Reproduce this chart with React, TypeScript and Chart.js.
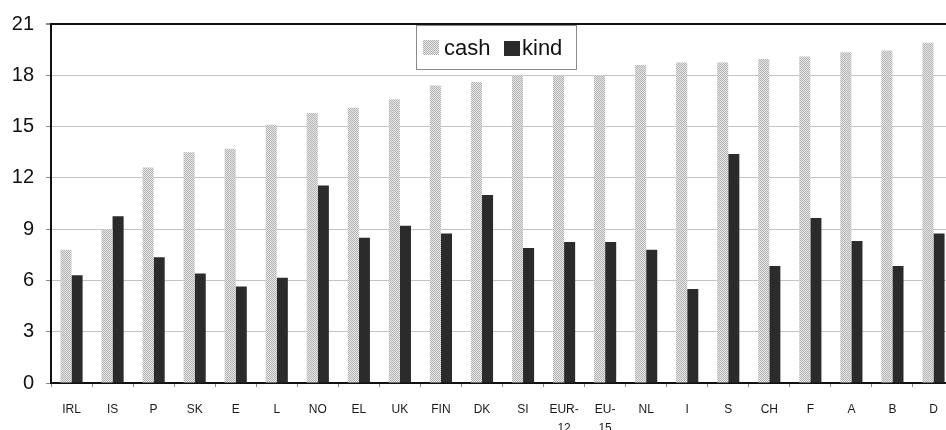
import React, { useEffect, useRef } from "react";
import { Chart, registerables } from "chart.js";

Chart.register(...registerables);

const categories: (string | string[])[] = [
  "IRL", "IS", "P", "SK", "E", "L", "NO", "EL", "UK", "FIN", "DK", "SI",
  ["EUR-", "12"], ["EU-", "15"], "NL", "I", "S", "CH", "F", "A", "B", "D",
];
const cashValues = [7.8, 9.0, 12.6, 13.5, 13.7, 15.1, 15.8, 16.1, 16.6, 17.4, 17.6, 18.0, 18.0, 18.0, 18.6, 18.75, 18.75, 18.95, 19.1, 19.35, 19.45, 19.9];
const kindValues = [6.3, 9.75, 7.35, 6.4, 5.65, 6.15, 11.55, 8.5, 9.2, 8.75, 11.0, 7.9, 8.25, 8.25, 7.8, 5.5, 13.4, 6.85, 9.65, 8.3, 6.85, 8.75];
const yTicks = [0, 3, 6, 9, 12, 15, 18, 21];
const seriesLabels = ["cash", "kind"];

function makeDotPattern(): CanvasPattern | string {
  const c = document.createElement("canvas");
  c.width = 2;
  c.height = 2;
  const g = c.getContext("2d");
  if (!g) return "#d0d0d0";
  g.fillStyle = "#e6e6e6";
  g.fillRect(0, 0, 2, 2);
  g.fillStyle = "#b4b4b4";
  g.fillRect(0, 0, 1, 1);
  g.fillRect(1, 1, 1, 1);
  const p = g.createPattern(c, "repeat");
  return p || "#d0d0d0";
}

const legendPlugin = {
  id: "boxLegend",
  afterDraw(chart: any) {
    const ctx = chart.ctx as CanvasRenderingContext2D;
    ctx.save();
    const x = 416, y = 25, w = 160, h = 44;
    ctx.fillStyle = "#ffffff";
    ctx.fillRect(x, y, w, h);
    ctx.strokeStyle = "#8a8a8a";
    ctx.lineWidth = 1;
    ctx.strokeRect(x + 0.5, y + 0.5, w, h);
    const ds = chart.data.datasets;
    ctx.font = "22px 'Liberation Sans', Arial, sans-serif";
    ctx.textBaseline = "alphabetic";
    ctx.fillStyle = ds[0].backgroundColor;
    ctx.fillRect(423, 40, 16, 15);
    ctx.fillStyle = "#111";
    ctx.fillText(ds[0].label, 444, 55);
    ctx.fillStyle = ds[1].backgroundColor;
    ctx.fillRect(504, 41, 16, 15);
    ctx.fillStyle = "#111";
    ctx.fillText(ds[1].label, 522, 55);
    ctx.restore();
  },
};

export default function App() {
  const ref = useRef<HTMLCanvasElement | null>(null);
  useEffect(() => {
    if (!ref.current) return;
    const pattern = makeDotPattern();
    const chart = new Chart(ref.current, {
      type: "bar",
      data: {
        labels: categories,
        datasets: [
          { label: seriesLabels[0], data: cashValues, backgroundColor: pattern as any, borderWidth: 0 },
          { label: seriesLabels[1], data: kindValues, backgroundColor: "#2b2b2b", borderWidth: 0 },
        ],
      },
      options: {
        responsive: false,
        animation: false,
        devicePixelRatio: 1,
        layout: { padding: { top: 21, right: 0, left: 0, bottom: 0 } },
        datasets: { bar: { categoryPercentage: 0.54, barPercentage: 1.0 } },
        plugins: { legend: { display: false }, tooltip: { enabled: false } },
        scales: {
          x: {
            grid: { display: true, drawOnChartArea: false, drawTicks: true, tickLength: 4, color: "#888", offset: true },
            border: { display: true, color: "#111", width: 2 },
            ticks: {
              color: "#1a1a1a",
              padding: 13,
              maxRotation: 0,
              autoSkip: false,
              font: { family: "'Liberation Sans', Arial, sans-serif", size: 12, lineHeight: 1.6 },
            },
            afterFit(scale: any) { scale.height = 47; },
          },
          y: {
            min: 0,
            max: 21,
            afterBuildTicks(scale: any) { scale.ticks = yTicks.map((v) => ({ value: v })); },
            grid: {
              color: (c: any) => (c.tick && c.tick.value === 21 ? "#111" : "#c4c4c4"),
              lineWidth: (c: any) => (c.tick && c.tick.value === 21 ? 2 : 1),
              tickLength: 5,
              tickColor: "#888",
            },
            border: { display: true, color: "#111", width: 2 },
            ticks: {
              color: "#111",
              padding: 12,
              font: { family: "'Liberation Sans', Arial, sans-serif", size: 20 },
            },
            afterFit(scale: any) { scale.width = 51; },
          },
        },
      },
      plugins: [legendPlugin],
    });
    return () => chart.destroy();
  }, []);
  return (
    <div style={{ position: "absolute", left: 0, top: 0, width: 946, height: 430, overflow: "hidden", background: "#fff" }}>
      <canvas ref={ref} width={954} height={430} style={{ display: "block" }} />
    </div>
  );
}
